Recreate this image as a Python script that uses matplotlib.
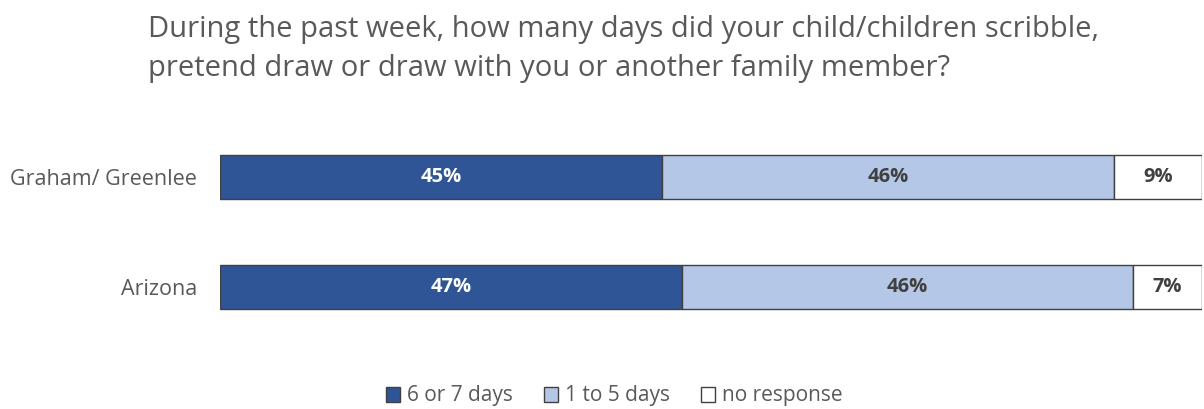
import matplotlib
matplotlib.use("Agg")
import matplotlib.pyplot as plt
from matplotlib.patches import Patch

plt.rcParams['font.family'] = ['Open Sans', 'DejaVu Sans']

# data
regions = ['Arizona', 'Graham/ Greenlee']
series_names = ['6 or 7 days', '1 to 5 days', 'no response']
six_seven = [47, 45]
one_five = [46, 46]
no_resp = [7, 9]

colors = ['#2F5597', '#B4C7E7', '#FFFFFF']
text_colors = ['white', '#404040', '#404040']

fig = plt.figure(figsize=(12.04, 4.09), dpi=100)
ax = fig.add_axes([220 / 1204, 67 / 409, 982 / 1204, 220 / 409])

y = range(len(regions))
left = [0] * len(regions)
for vals, col, tcol in zip([six_seven, one_five, no_resp], colors, text_colors):
    bars = ax.barh(y, vals, left=left, height=0.4, color=col,
                   edgecolor='#404040', linewidth=1.0)
    for b, v in zip(bars, vals):
        ax.text(b.get_x() + b.get_width() / 2, b.get_y() + b.get_height() / 2,
                f"{v}%", ha='center', va='center', color=tcol,
                fontsize=14.5, fontweight='bold')
    left = [l + v for l, v in zip(left, vals)]

ax.set_xlim(0, 100)
ax.set_ylim(-0.5, 1.5)
ax.set_yticks(list(y))
ax.set_yticklabels(regions, fontsize=15.5, color='#595959')
ax.tick_params(axis='y', length=0, pad=16.5)
ax.set_xticks([])
for s in ax.spines.values():
    s.set_visible(False)

fig.text(148 / 1204, 1 - 15 / 409,
         "During the past week, how many days did your child/children scribble,\n"
         "pretend draw or draw with you or another family member?",
         fontsize=21, color='#595959', ha='left', va='top', linespacing=1.45)

handles = [Patch(facecolor=c, edgecolor='#404040', linewidth=1.0, label=n)
           for c, n in zip(colors, series_names)]
fig.legend(handles=handles, loc='center', bbox_to_anchor=(614 / 1204, 1 - 396 / 409),
           ncol=3, frameon=False, fontsize=15, handlelength=0.7, handleheight=0.7,
           handletextpad=0.3, columnspacing=1.5, labelcolor='#595959')

fig.savefig('out.png', dpi=100)
